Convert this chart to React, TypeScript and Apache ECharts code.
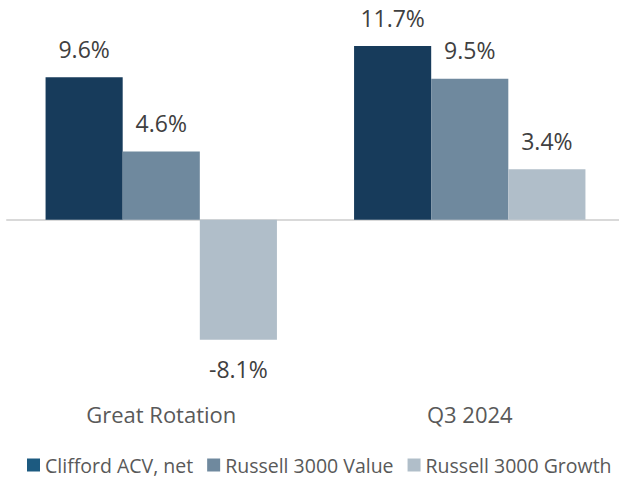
import React, { useEffect, useRef } from "react";
import * as echarts from "echarts";

const categories = ["Great Rotation", "Q3 2024"];
const seriesNames = ["Clifford ACV, net", "Russell 3000 Value", "Russell 3000 Growth"];
const cliffordValues = [9.6, 11.7];
const valueIndexValues = [4.6, 9.5];
const growthIndexValues = [-8.1, 3.4];
const barColors = ["#173b5b", "#6f899e", "#b0bec9"];
const legendColors = ["#1c5a80", "#6f899e", "#b0bec9"];

export default function App() {
  const ref = useRef<HTMLDivElement>(null);
  useEffect(() => {
    if (!ref.current) return;
    const chart = echarts.init(ref.current, undefined, { renderer: "svg" });
    const font = "'Open Sans', sans-serif";
    const mk = (name: string, values: number[], color: string) => ({
      name,
      type: "bar",
      barGap: "0%",
      barCategoryGap: "25%",
      itemStyle: { color },
      data: values.map((v) => ({
        value: v,
        label: {
          show: true,
          position: v < 0 ? "bottom" : "top",
          distance: v < 0 ? 18 : 17,
          formatter: (p: any) => p.value.toFixed(1) + "%",
          fontFamily: font,
          fontSize: 23,
          color: "#404040",
        },
      })),
    });
    chart.setOption({
      animation: false,
      grid: { left: 7, width: 617, top: 12, height: 356 },
      legend: {
        left: 22,
        top: 449,
        itemWidth: 13,
        itemHeight: 13,
        itemGap: 14,
        icon: "rect",
        textStyle: { fontFamily: font, fontSize: 19.5, lineHeight: 22, color: "#595959" },
        data: seriesNames.map((n, i) => ({ name: n, itemStyle: { color: legendColors[i] } })),
      },
      xAxis: {
        type: "category",
        data: categories,
        axisLine: { onZero: true, lineStyle: { color: "#d9d9d9", width: 2 } },
        axisTick: { show: false },
        axisLabel: { fontFamily: font, fontSize: 22, color: "#595959", margin: 35 },
      },
      yAxis: {
        type: "value",
        min: -10,
        max: 14,
        show: false,
        splitLine: { show: false },
      },
      series: [
        mk(seriesNames[0], cliffordValues, barColors[0]),
        mk(seriesNames[1], valueIndexValues, barColors[1]),
        mk(seriesNames[2], growthIndexValues, barColors[2]),
      ],
    });
    return () => chart.dispose();
  }, []);
  return (
    <div style={{ position: "absolute", left: 0, top: 0, width: 619, height: 477, overflow: "hidden" }}>
      <div ref={ref} style={{ width: 640, height: 477 }} />
    </div>
  );
}
